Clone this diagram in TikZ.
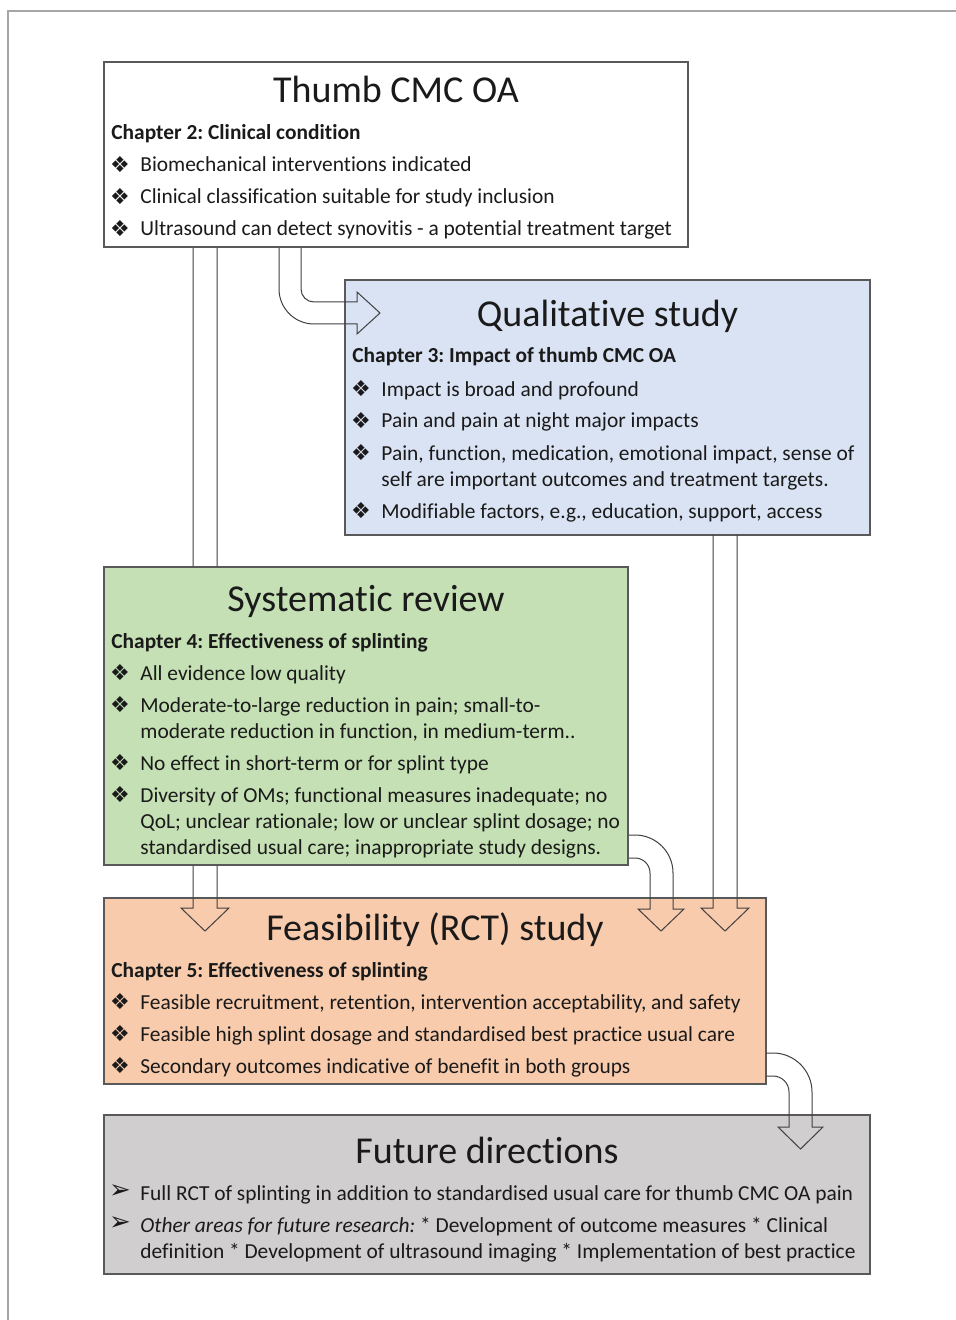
\documentclass[tikz,border=0pt]{standalone}
\usepackage{fontspec}
\setmainfont{Carlito}[Ligatures=NoCommon]
\newfontfamily\dvfont{DejaVu Sans}
\definecolor{bluefill}{HTML}{DAE3F3}
\definecolor{greenfill}{HTML}{C5E0B4}
\definecolor{orangefill}{HTML}{F8CBAD}
\definecolor{grayfill}{HTML}{D0CECE}
\definecolor{boxline}{HTML}{595959}
\definecolor{arrline}{HTML}{404040}
\definecolor{pageline}{HTML}{A6A6A6}
\definecolor{txtcol}{HTML}{1A1A1A}
\tikzset{
 box/.style={draw=boxline, line width=0.6pt, inner sep=0pt, outer sep=0pt},
 ttl/.style={anchor=base, inner sep=0pt, font=\fontsize{19}{22}\selectfont, text=txtcol},
 chap/.style={anchor=base west, inner sep=0pt, font=\frenchspacing\bfseries\fontsize{10.7}{12}\selectfont, text=txtcol},
 txt/.style={anchor=base west, inner sep=0pt, font=\frenchspacing\fontsize{10.7}{12}\selectfont, text=txtcol},
 bul/.style={anchor=center, inner sep=0pt, font=\dvfont\fontsize{11}{12}\selectfont, text=txtcol},
 bularr/.style={anchor=center, inner sep=0pt, font=\dvfont\fontsize{13}{14}\selectfont, text=txtcol},
 blockarrow/.style={draw=arrline, line width=0.5pt, line join=miter},
}
\newcommand\myitem[5]{%
 \node[bul] (#1-b) at (#2,#4-7) {\char"2756};
 \node[txt] (#1) at (#3,#4) {#5};}
\newcommand\myarrowitem[5]{%
 \node[bularr] (#1-b) at (#2,#4-8.5) {\char"27A2};
 \node[txt] (#1) at (#3,#4) {#5};}
\begin{document}
\begin{tikzpicture}[x=0.5pt,y=-0.5pt]
\useasboundingbox (0,0) rectangle (956,1320);
\fill[white] (0,0) rectangle (956,1320);
% page frame
\draw[pageline, line width=0.6pt] (8,1320) -- (8,11) -- (956,11);
% lower boxes
\node[box, fill=bluefill, minimum width=262.5pt, minimum height=127.5pt] (b2) at (607.5,407.5) {};
\node[box, fill=orangefill, minimum width=331pt, minimum height=93pt] (b4) at (435,991) {};
\node[box, fill=grayfill, minimum width=383pt, minimum height=79.5pt] (b5) at (487,1194.5) {};
% block arrows
\draw[blockarrow] (193,247) -- (193,908) -- (181,908) -- (205,931) -- (229,908) -- (217,908) -- (217,247);
\draw[blockarrow] (279,247) -- (279,289) .. controls (279,308.3) and (294.7,324) .. (314,324) -- (357,324) -- (357,334) -- (380,313) -- (357,292) -- (357,302) -- (314,302) .. controls (306.8,302) and (301,296.2) .. (301,289) -- (301,247);
\draw[blockarrow] (713,535) -- (713,908) -- (701,908) -- (725,931) -- (749,908) -- (737,908) -- (737,535);
\draw[blockarrow] (628,835) -- (635,835) .. controls (656,835) and (673,852) .. (673,873) -- (673,909) -- (684,909) -- (661,931) -- (638,909) -- (650,909) -- (650,873) .. controls (650,864.7) and (643.3,858) .. (635,858) -- (628,858);
\draw[blockarrow] (766,1053) -- (773,1053) .. controls (794.5,1053) and (812,1070.5) .. (812,1092) -- (812,1127) -- (823,1127) -- (800.5,1149) -- (778,1127) -- (789,1127) -- (789,1092) .. controls (789,1083.2) and (781.8,1076) .. (773,1076) -- (766,1076);
% upper boxes
\node[box, fill=white, minimum width=292pt, minimum height=92.5pt] (b1) at (396,154.5) {};
\node[box, fill=greenfill, minimum width=262pt, minimum height=149pt] (b3) at (366,716) {};
% box 1
\node[ttl] (t1) at (396,103) {Thumb CMC OA};
\node[chap] (c1) at (111,140) {Chapter 2: Clinical condition};
\myitem{i11}{120}{140}{172}{Biomechanical interventions indicated}
\myitem{i12}{120}{140}{204}{Clinical classification suitable for study inclusion}
\myitem{i13}{120}{140}{236}{Ultrasound can detect synovitis - a potential treatment target}
% box 2
\node[ttl] (t2) at (607.5,327) {Qualitative study};
\node[chap] (c2) at (352,363) {Chapter 3: Impact of thumb CMC OA};
\myitem{i21}{361}{381}{396}{Impact is broad and profound}
\myitem{i22}{361}{381}{428}{Pain and pain at night major impacts}
\myitem{i23}{361}{381}{460}{Pain, function, medication, emotional impact, sense of}
\node[txt] (i23b) at (381,486) {self are important outcomes and treatment targets.};
\myitem{i24}{361}{381}{518}{Modifiable factors, e.g., education, support, access}
% box 3
\node[ttl] (t3) at (366,611) {Systematic review};
\node[chap] (c3) at (111,648) {Chapter 4: Effectiveness of splinting};
\myitem{i31}{120}{140}{680}{All evidence low quality}
\myitem{i32}{120}{140}{712}{Moderate-to-large reduction in pain; small-to-}
\node[txt] (i32b) at (140,738) {moderate reduction in function, in medium-term..};
\myitem{i33}{120}{140}{770}{No effect in short-term or for splint type}
\myitem{i34}{120}{140}{802}{Diversity of OMs; functional measures inadequate; no}
\node[txt] (i34b) at (140,828) {QoL; unclear rationale; low or unclear splint dosage; no};
\node[txt] (i34c) at (140,854) {standardised usual care; inappropriate study designs.};
% box 4
\node[ttl] (t4) at (435,940) {Feasibility (RCT) study};
\node[chap] (c4) at (111,977) {Chapter 5: Effectiveness of splinting};
\myitem{i41}{120}{140}{1009}{Feasible recruitment, retention, intervention acceptability, and safety}
\myitem{i42}{120}{140}{1041}{Feasible high splint dosage and standardised best practice usual care}
\myitem{i43}{120}{140}{1073}{Secondary outcomes indicative of benefit in both groups}
% box 5
\node[ttl] (t5) at (487,1163) {Future directions};
\myarrowitem{i51}{120}{140}{1200}{Full RCT of splinting in addition to standardised usual care for thumb CMC OA pain}
\myarrowitem{i52}{120}{140}{1232}{\textit{Other areas for future research:} * Development of outcome measures * Clinical}
\node[txt] (i52b) at (140,1258) {definition * Development of ultrasound imaging * Implementation of best practice};
\end{tikzpicture}
\end{document}
